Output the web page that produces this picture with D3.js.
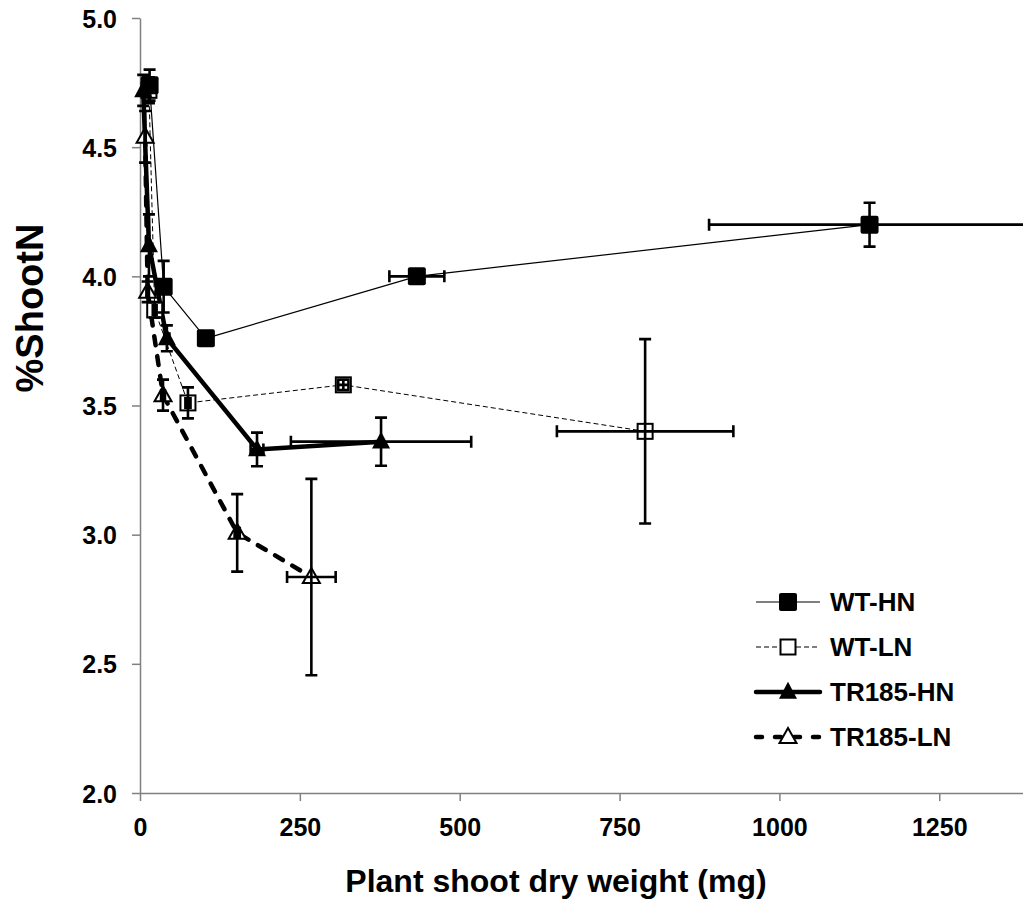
<!DOCTYPE html>
<html>
<head>
<meta charset="utf-8">
<script src="https://cdn.jsdelivr.net/npm/d3@7/dist/d3.min.js"></script>
<style>
  body { margin: 0; background: #fff; }
  svg text { font-family: "Liberation Sans", Arial, sans-serif; font-weight: bold; fill: #000; }
</style>
</head>
<body>
<svg id="chart" width="1023" height="904"></svg>
<script>
// data (x = shoot dry weight mg, y = %ShootN)
var seriesNames = ['WT-HN', 'WT-LN', 'TR185-HN', 'TR185-LN']

var wtHN_x  = [15, 37, 103, 433, 1141]
var wtHN_y  = [4.74, 3.96, 3.76, 4.00, 4.20]
var wtHN_xe = [2, 3, 3, 43, 251]
var wtHN_ye = [0.06, 0.10, 0.01, 0.02, 0.085]

var wtLN_x  = [14, 23, 75, 318, 790]
var wtLN_y  = [4.72, 3.87, 3.51, 3.58, 3.40]
var wtLN_xe = [2, 3, 4, 8, 138]
var wtLN_ye = [0.05, 0.03, 0.06, 0.02, 0.357]

var trHN_x  = [5, 14, 42, 183, 377]
var trHN_y  = [4.72, 4.12, 3.76, 3.33, 3.36]
var trHN_xe = [1, 2, 4, 10, 141]
var trHN_ye = [0.06, 0.12, 0.05, 0.065, 0.093]

var trLN_x  = [8, 12, 36, 152, 268]
var trLN_y  = [4.54, 3.94, 3.54, 3.007, 2.836]
var trLN_xe = [1, 2, 3, 4, 38]
var trLN_ye = [0.10, 0.04, 0.06, 0.15, 0.38]

var xTicks = [0, 250, 500, 750, 1000, 1250]
var yTicks = [2.0, 2.5, 3.0, 3.5, 4.0, 4.5, 5.0]

// build point lists
function pts(xs, ys, xe, ye){
  return xs.map(function(x, i){ return {x: x, y: ys[i], xe: xe[i], ye: ye[i]} })
}
var series = [
  {name: seriesNames[0], pts: pts(wtHN_x, wtHN_y, wtHN_xe, wtHN_ye), shape: 'square', filled: true,  width: 1.2, dash: null},
  {name: seriesNames[1], pts: pts(wtLN_x, wtLN_y, wtLN_xe, wtLN_ye), shape: 'square', filled: false, width: 1,   dash: '5,3'},
  {name: seriesNames[2], pts: pts(trHN_x, trHN_y, trHN_xe, trHN_ye), shape: 'tri',    filled: true,  width: 4.5, dash: null},
  {name: seriesNames[3], pts: pts(trLN_x, trLN_y, trLN_xe, trLN_ye), shape: 'tri',    filled: false, width: 4.5, dash: '9,11'}
]

var svg = d3.select('#chart')
var plotLeft = 140, plotTop = 18, plotBottom = 793

var x = d3.scaleLinear().domain([0, 1400]).range([plotLeft, plotLeft + 1400 * 0.6394])
var y = d3.scaleLinear().domain([2, 5]).range([plotBottom, plotTop])

// axes
var gx = svg.append('g').attr('transform', 'translate(0,' + plotBottom + ')')
  .call(d3.axisBottom(x).tickValues(xTicks).tickSize(8).tickSizeOuter(0).tickFormat(d3.format('d')))
var gy = svg.append('g').attr('transform', 'translate(' + plotLeft + ',0)')
  .call(d3.axisLeft(y).tickValues(yTicks).tickSize(8).tickSizeOuter(0).tickPadding(15).tickFormat(d3.format('.1f')))

svg.selectAll('.domain, .tick line').attr('stroke', '#808080').attr('stroke-width', 1.5)
gx.selectAll('.tick text').attr('y', 43).attr('dy', 0).style('font-size', '25px')
gy.selectAll('.tick text').attr('dy', '0.36em').style('font-size', '25px')

svg.append('text')
  .attr('x', 556).attr('y', 892)
  .attr('text-anchor', 'middle')
  .style('font-size', '32px')
  .text('Plant shoot dry weight (mg)')
svg.append('text')
  .attr('transform', 'translate(43,308) rotate(-90)')
  .attr('text-anchor', 'middle')
  .style('font-size', '38px')
  .text('%ShootN')

// marker drawing
function marker(g, shape, filled, cx, cy){
  if(shape == 'square'){
    var s = filled ? 18 : 15
    g.append('rect')
      .attr('x', cx - s / 2).attr('y', cy - s / 2)
      .attr('width', s).attr('height', s)
      .attr('rx', filled ? 2 : 0)
      .attr('fill', filled ? '#000' : '#fff')
      .attr('stroke', '#000').attr('stroke-width', filled ? 0 : 2)
  }else{
    var w = filled ? 18 : 17, h = filled ? 17 : 15
    g.append('path')
      .attr('d', 'M' + cx + ',' + (cy - h * 0.6) + 'L' + (cx + w / 2) + ',' + (cy + h * 0.4) + 'L' + (cx - w / 2) + ',' + (cy + h * 0.4) + 'Z')
      .attr('fill', filled ? '#000' : '#fff')
      .attr('stroke', '#000').attr('stroke-width', filled ? 0 : 2).attr('stroke-linejoin', 'miter')
  }
}

var line = d3.line().x(function(d){return x(d.x)}).y(function(d){return y(d.y)})
var cap = 6

// connecting lines first
series.forEach(function(s){
  svg.append('path')
    .attr('d', line(s.pts))
    .attr('fill', 'none').attr('stroke', '#000')
    .attr('stroke-width', s.width)
    .attr('stroke-dasharray', s.dash)
    .attr('stroke-linecap', s.width > 2 ? 'round' : 'butt')
    .attr('stroke-linejoin', 'round')
})

// markers + error bars, open markers below the filled ones
var drawOrder = [1, 3, 2, 0]
drawOrder.forEach(function(k){
  var s = series[k]
  var g = svg.append('g')
  s.pts.forEach(function(d){ marker(g, s.shape, s.filled, x(d.x), y(d.y)) })

  s.pts.forEach(function(d){
    var cx = x(d.x), cy = y(d.y)
    var x0 = x(d.x - d.xe), x1 = x(d.x + d.xe)
    var y0 = y(d.y - d.ye), y1 = y(d.y + d.ye)
    var p = 'M' + x0 + ',' + cy + 'H' + x1 +
            'M' + x0 + ',' + (cy - cap) + 'V' + (cy + cap) +
            'M' + x1 + ',' + (cy - cap) + 'V' + (cy + cap) +
            'M' + cx + ',' + y0 + 'V' + y1 +
            'M' + (cx - cap) + ',' + y0 + 'H' + (cx + cap) +
            'M' + (cx - cap) + ',' + y1 + 'H' + (cx + cap)
    g.append('path').attr('d', p)
      .attr('fill', 'none').attr('stroke', '#000').attr('stroke-width', 2.6)
  })
})

// legend
var legY = [602, 647, 692, 737]
series.forEach(function(s, i){
  var g = svg.append('g')
  g.append('line')
    .attr('x1', 756).attr('x2', 820)
    .attr('y1', legY[i]).attr('y2', legY[i])
    .attr('stroke', '#000').attr('stroke-width', s.width)
    .attr('stroke-dasharray', s.shape == 'tri' && s.dash ? '6,13' : s.dash)
    .attr('stroke-linecap', s.width > 2 ? 'round' : 'butt')
  marker(g, s.shape, s.filled, 788, legY[i])
  g.append('text')
    .attr('x', 830).attr('y', legY[i])
    .attr('dy', '0.36em')
    .style('font-size', '26px')
    .text(s.name)
})
</script>
</body>
</html>
